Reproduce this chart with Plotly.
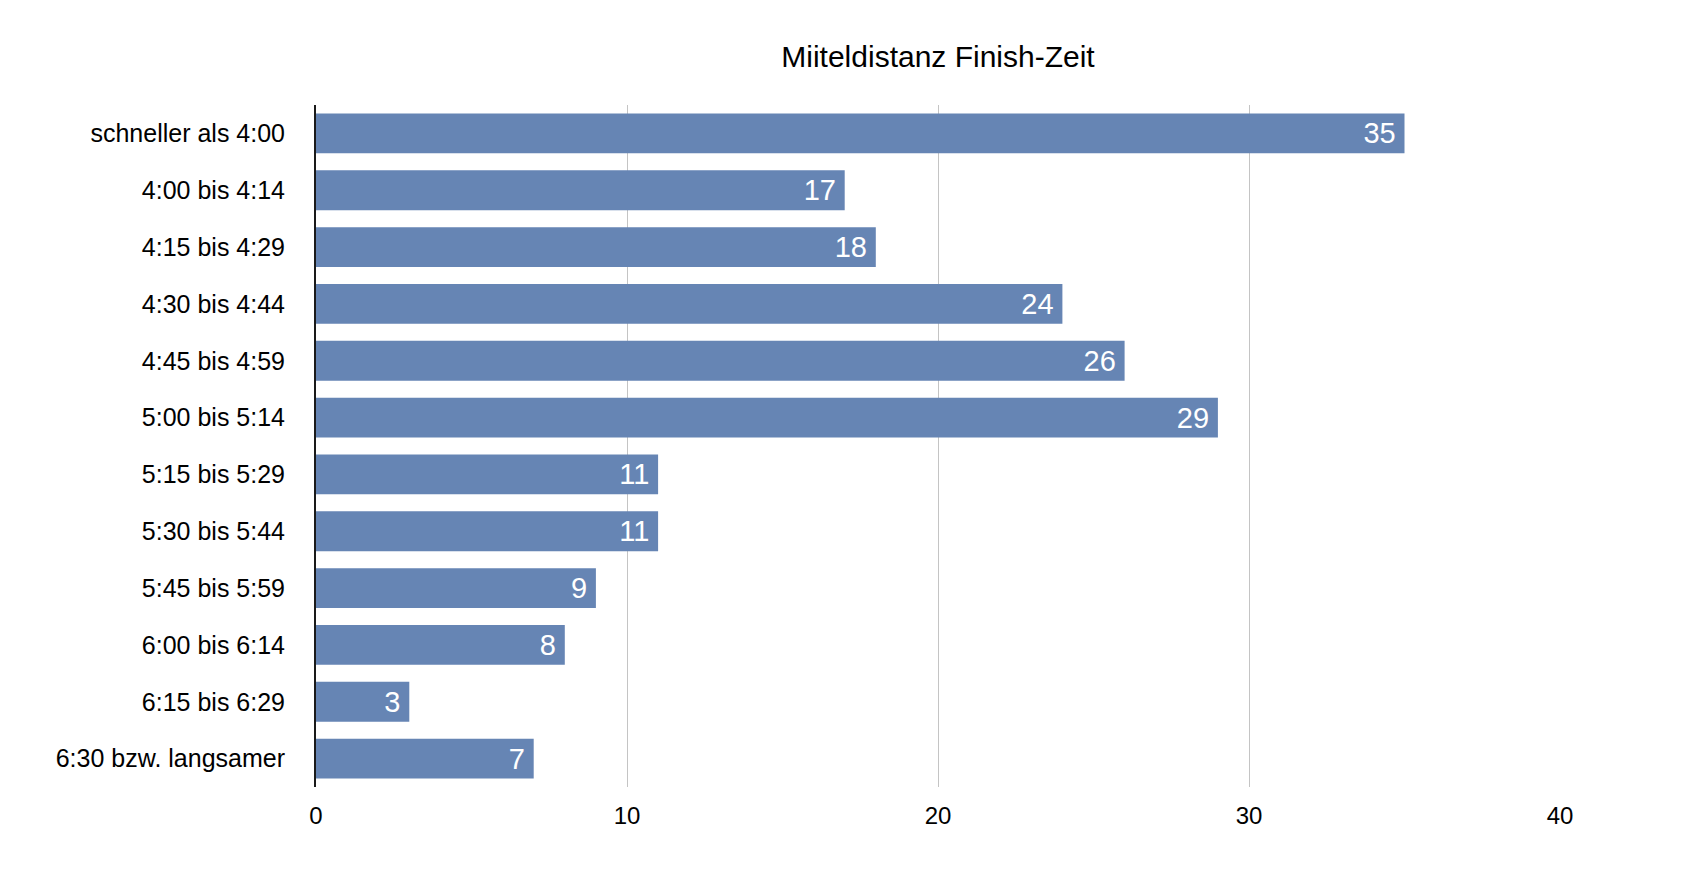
import plotly.graph_objects as go

categories = [
    "schneller als 4:00",
    "4:00 bis 4:14",
    "4:15 bis 4:29",
    "4:30 bis 4:44",
    "4:45 bis 4:59",
    "5:00 bis 5:14",
    "5:15 bis 5:29",
    "5:30 bis 5:44",
    "5:45 bis 5:59",
    "6:00 bis 6:14",
    "6:15 bis 6:29",
    "6:30 bzw. langsamer",
]
values = [35, 17, 18, 24, 26, 29, 11, 11, 9, 8, 3, 7]
x_ticks = [0, 10, 20, 30, 40]
title_text = "Miiteldistanz Finish-Zeit"

FONT = "Helvetica Neue, Helvetica, Liberation Sans, Arial, sans-serif"
BAR_COLOR = "#6685b4"

fig = go.Figure(
    go.Bar(
        x=values,
        y=categories,
        orientation="h",
        marker=dict(color=BAR_COLOR, line=dict(width=0)),
        texttemplate="%{x}\u2009",
        textposition="inside",
        insidetextanchor="end",
        constraintext="none",
        textfont=dict(family=FONT, size=29, color="white"),
        hoverinfo="x+y",
    )
)

fig.update_layout(
    width=1682,
    height=876,
    paper_bgcolor="white",
    plot_bgcolor="white",
    margin=dict(l=308, r=130, t=97, b=97),
    bargap=0.3,
    showlegend=False,
    font=dict(family=FONT, color="black"),
    title=dict(
        text=title_text,
        font=dict(family=FONT, size=30, color="black"),
        x=0.5,
        xref="paper",
        xanchor="center",
        y=1 - 48 / 876,
        yref="container",
        yanchor="middle",
    ),
)

fig.update_xaxes(
    range=[0, 40],
    tickvals=x_ticks,
    ticktext=[str(v) for v in x_ticks],
    showgrid=True,
    gridcolor="#c4c4c4",
    gridwidth=1,
    zeroline=False,
    showline=False,
    ticks="",
    ticklabelstandoff=12,
    tickfont=dict(family=FONT, size=24, color="black"),
)

fig.update_yaxes(
    categoryorder="array",
    categoryarray=categories,
    autorange="reversed",
    showgrid=False,
    zeroline=False,
    showline=True,
    linecolor="#1a1a1a",
    linewidth=2,
    ticks="",
    ticklabelstandoff=24,
    tickfont=dict(family=FONT, size=25, color="black"),
)

fig.write_html("out.html")
